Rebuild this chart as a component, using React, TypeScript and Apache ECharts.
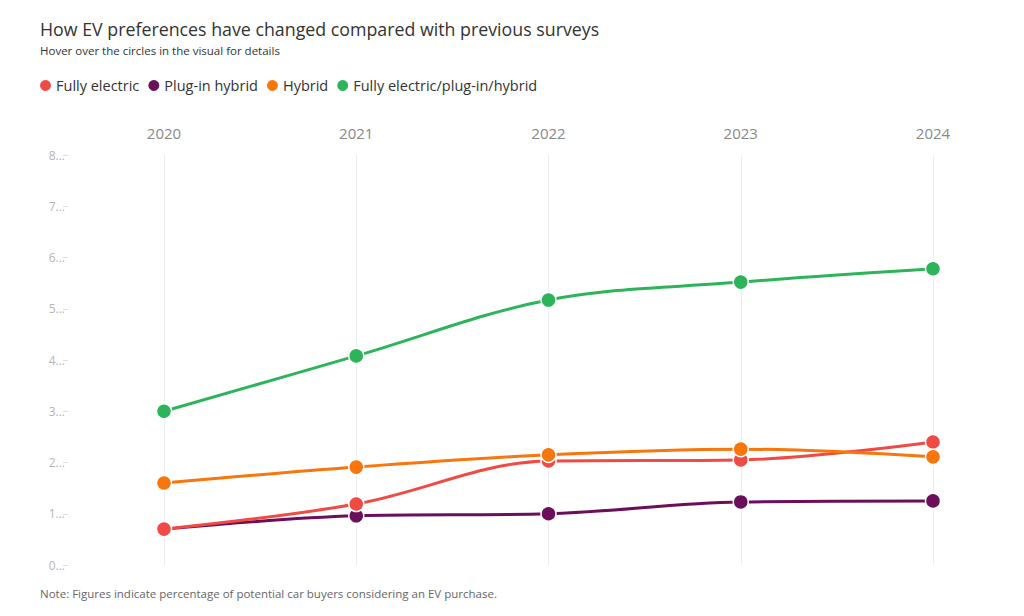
import React, { useEffect, useRef } from "react";
import * as echarts from "echarts";

const years = ["2020", "2021", "2022", "2023", "2024"];
const yTickLabels = ["0...", "1...", "2...", "3...", "4...", "5...", "6...", "7...", "8..."];
const fullyElectric = [0.7, 1.19, 2.03, 2.05, 2.4];
const plugInHybrid = [0.7, 0.96, 1.0, 1.23, 1.25];
const hybrid = [1.6, 1.91, 2.15, 2.26, 2.11];
const combined = [3.0, 4.08, 5.17, 5.52, 5.78];

const seriesNames = ["Fully electric", "Plug-in hybrid", "Hybrid", "Fully electric/plug-in/hybrid"];
const seriesColors = ["#f04a44", "#6b0f5a", "#f7760d", "#2db45a"];
const seriesData = [fullyElectric, plugInHybrid, hybrid, combined];
const seriesZ = [3, 2, 4, 5];

const FONT = "'Open Sans', 'Noto Sans', sans-serif";

export default function App() {
  const ref = useRef<HTMLDivElement>(null);
  useEffect(() => {
    if (!ref.current) return;
    const chart = echarts.init(ref.current, undefined, { renderer: "svg" });
    chart.setOption({
      animation: false,
      backgroundColor: "#ffffff",
      textStyle: { fontFamily: FONT },
      title: {
        text: "How EV preferences have changed compared with previous surveys",
        subtext: "Hover over the circles in the visual for details",
        left: 35,
        top: 15,
        itemGap: 6,
        textStyle: { fontSize: 17.8, fontWeight: "normal", color: "#333333", fontFamily: FONT },
        subtextStyle: { fontSize: 11.5, color: "#333333", fontFamily: FONT },
      },
      legend: {
        left: 33,
        top: 73,
        icon: "circle",
        itemWidth: 13,
        itemHeight: 13,
        itemGap: 7,
        textStyle: { fontSize: 14.5, color: "#333333", fontFamily: FONT, padding: [0, 0, 0, -1] },
        data: seriesNames,
      },
      graphic: [
        {
          type: "text",
          left: 40,
          top: 587,
          style: {
            text: "Note: Figures indicate percentage of potential car buyers considering an EV purchase.",
            fontSize: 11.5,
            fill: "#666666",
            fontFamily: FONT,
          },
        },
      ],
      grid: { left: 164, right: 91, top: 155, bottom: 51 },
      xAxis: {
        type: "category",
        data: years,
        position: "top",
        boundaryGap: false,
        axisLine: { show: false },
        axisTick: { show: false },
        axisLabel: { color: "#888888", fontSize: 15, margin: 15 },
        splitLine: { show: true, lineStyle: { color: "#ececec", width: 1 } },
      },
      yAxis: {
        type: "value",
        min: 0,
        max: 8,
        interval: 1,
        offset: 96,
        axisLine: { show: false },
        axisTick: { show: true, length: 5, lineStyle: { color: "#dddddd" } },
        axisLabel: {
          color: "#b5b5b5",
          fontSize: 12,
          margin: 3,
          formatter: (v: number) => yTickLabels[Math.round(v)] ?? "",
        },
        splitLine: { show: false },
      },
      series: seriesNames.map((name, i) => ({
        name,
        type: "line",
        data: seriesData[i],
        z: seriesZ[i],
        smooth: 0.35,
        symbol: "circle",
        symbolSize: 15,
        itemStyle: { color: seriesColors[i], borderColor: "#ffffff", borderWidth: 1.5 },
        lineStyle: { color: seriesColors[i], width: 3 },
      })),
    });
    return () => chart.dispose();
  }, []);
  return (
    <div style={{ position: "fixed", left: 0, top: 0, width: 1024, height: 616 }}>
      <div ref={ref} style={{ width: 1024, height: 616 }} />
    </div>
  );
}
